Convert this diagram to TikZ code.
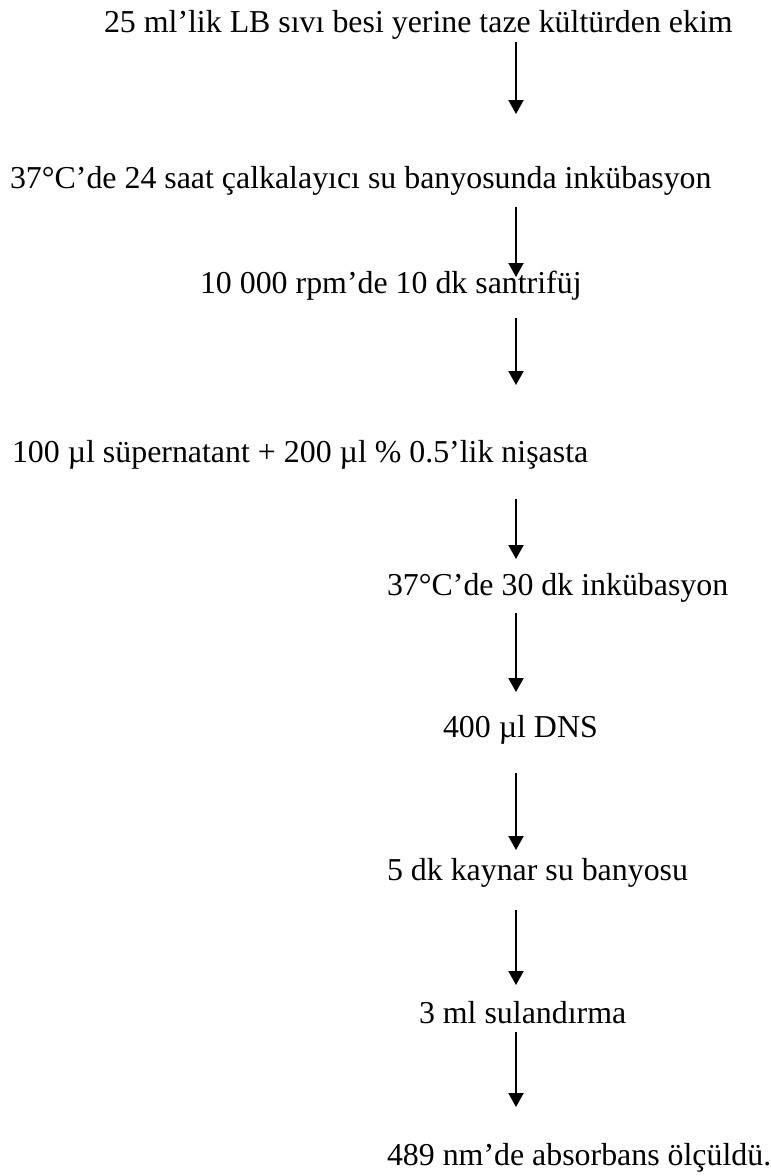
\documentclass[tikz,border=0pt]{standalone}
\usepackage{fontspec}
\setmainfont{Liberation Serif}
\usetikzlibrary{arrows.meta}
\tikzset{
  steptext/.style={anchor=base west, inner sep=0pt, outer sep=0pt, font=\fontsize{32}{37}\selectfont},
  flowarrow/.style={line width=2bp, -{Triangle[length=14bp,width=15bp]}}
}
\begin{document}
\begin{tikzpicture}[x=1bp,y=-1bp]
\useasboundingbox (0,0) rectangle (771,1176);
\node[steptext] (t1) at (104,32) {25 ml’lik LB sıvı besi yerine taze kültürden ekim};
\node[steptext] (t2) at (10,188) {37°C’de 24 saat çalkalayıcı su banyosunda inkübasyon};
\node[steptext] (t3) at (200,293) {10 000 rpm’de 10 dk santrifüj};
\node[steptext] (t4) at (12,462) {100 µl süpernatant + 200 µl \% 0.5’lik nişasta};
\node[steptext] (t5) at (387,595) {37°C’de 30 dk inkübasyon};
\node[steptext] (t6) at (443,737) {400 µl DNS};
\node[steptext] (t7) at (387,880) {5 dk kaynar su banyosu};
\node[steptext] (t8) at (419,1023) {3 ml sulandırma};
\node[steptext] (t9) at (387,1165) {489 nm’de absorbans ölçüldü.};
\coordinate (a1s) at (516,42);   \coordinate (a1e) at (516,114);
\coordinate (a2s) at (516,207);  \coordinate (a2e) at (516,277);
\coordinate (a3s) at (516,318);  \coordinate (a3e) at (516,385);
\coordinate (a4s) at (516,499);  \coordinate (a4e) at (516,559);
\coordinate (a5s) at (516,613);  \coordinate (a5e) at (516,692);
\coordinate (a6s) at (516,773);  \coordinate (a6e) at (516,850);
\coordinate (a7s) at (516,910);  \coordinate (a7e) at (516,985);
\coordinate (a8s) at (516,1032); \coordinate (a8e) at (516,1107);
\foreach \i in {1,...,8} {\draw[flowarrow] (a\i s) -- (a\i e);}
\end{tikzpicture}
\end{document}
